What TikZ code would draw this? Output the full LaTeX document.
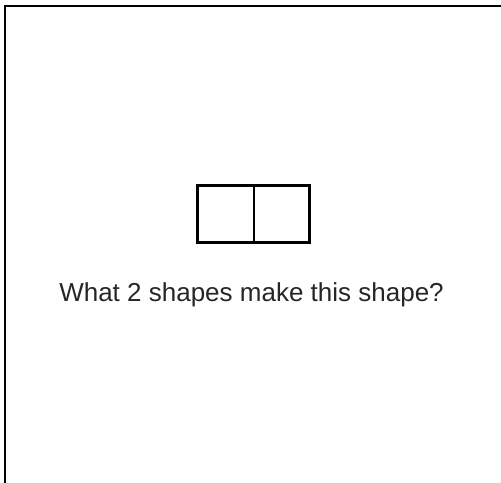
\documentclass[tikz,border=0pt]{standalone}
\usepackage{fontspec}
\setmainfont{Liberation Sans}
\definecolor{txt}{HTML}{262626}
\begin{document}
\begin{tikzpicture}[x=1bp,y=-1bp,
  frame/.style={line width=2bp,black},
  outline/.style={line width=3bp,black},
  divider/.style={line width=2bp,black}]
\useasboundingbox (0,0) rectangle (501,483);
\coordinate (fb) at (5,483);
\coordinate (fc) at (5,6);
\coordinate (fr) at (501,6);
\draw[frame] (fb) -- (fc) -- (fr);
\node[draw,outline,minimum width=112bp,minimum height=57bp,inner sep=0pt] (box) at (253.4,214.2) {};
\draw[divider] (box.north) ++(0.6,0) coordinate (dt) (box.south) ++(0.6,0) coordinate (db);
\draw[divider] (dt) -- (db);
\node[text=txt,font=\fontsize{26bp}{30bp}\selectfont,anchor=base,inner sep=0pt] (q) at (251.5,301.7) {What 2 shapes make this shape?};
\end{tikzpicture}
\end{document}
